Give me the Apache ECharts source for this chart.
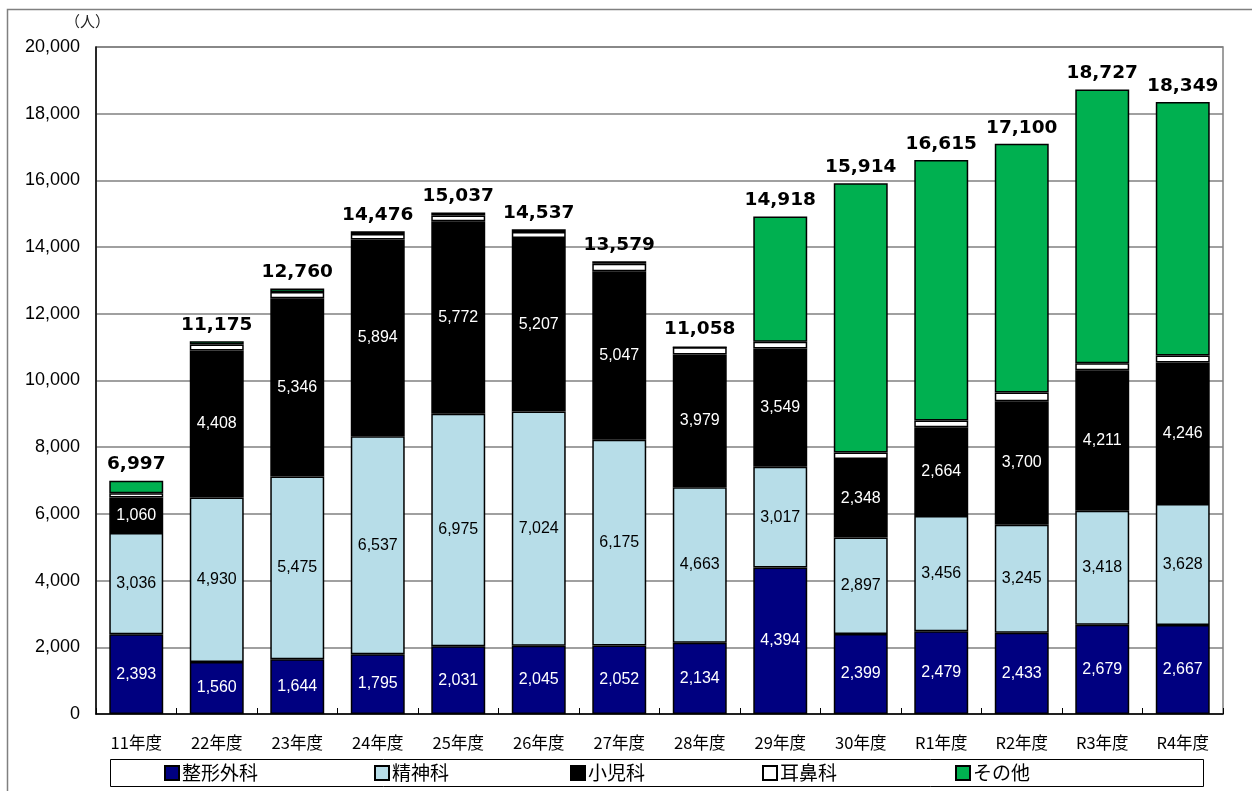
<!DOCTYPE html>
<html>
<head>
<meta charset="utf-8">
<script src="https://cdn.jsdelivr.net/npm/echarts@6/dist/echarts.min.js"></script>
<style>
html,body{margin:0;padding:0;background:#fff;}
#c{width:1252px;height:791px;}
</style>
</head>
<body>
<div id="c"></div>
<script>
var categories = ['11年度','22年度','23年度','24年度','25年度','26年度','27年度','28年度','29年度','30年度','R1年度','R2年度','R3年度','R4年度'];
var seikei  = [2393,1560,1644,1795,2031,2045,2052,2134,4394,2399,2479,2433,2679,2667];
var seishin = [3036,4930,5475,6537,6975,7024,6175,4663,3017,2897,3456,3245,3418,3628];
var shouni  = [1060,4408,5346,5894,5772,5207,5047,3979,3549,2348,2664,3700,4211,4246];
var jibi    = [130,180,190,170,170,180,230,220,200,200,200,260,210,210];
var sonota  = [378,97,105,80,89,81,75,0,3758,8070,7816,7462,8209,7598];
var totals  = [6997,11175,12760,14476,15037,14537,13579,11058,14918,15914,16615,17100,18727,18349];
var yTicks  = [0,2000,4000,6000,8000,10000,12000,14000,16000,18000,20000];

var NUM = "'Liberation Sans', Arial, sans-serif";
var JP = "'Noto Sans CJK JP', sans-serif";
function fmt(v){ return Number(v).toLocaleString('en-US'); }

function seg(name, data, color, labelColor, showLabel){
  return {
    name: name, type: 'bar', stack: 'all', data: data,
    barCategoryGap: '33%',
    itemStyle: {color: color, borderColor: '#000', borderWidth: 1.5},
    label: {
      show: showLabel, position: 'inside', color: labelColor,
      fontFamily: NUM, fontSize: 16,
      formatter: function(p){ return fmt(p.value); }
    },
    emphasis: {disabled: true},
    animation: false
  };
}

var legendLefts = [164, 374, 570, 762, 955];
var legendNames = ['整形外科','精神科','小児科','耳鼻科','その他'];
var legends = legendNames.map(function(n, i){
  return {
    data: [n], left: legendLefts[i], top: 763, padding: 0,
    itemWidth: 14, itemHeight: 14, itemGap: 6, icon: 'rect',
    selectedMode: false,
    textStyle: {fontFamily: JP, fontSize: 19, color: '#000', lineHeight: 20, padding: [0,0,0,-2]}
  };
});

var chart = echarts.init(document.getElementById('c'));
chart.setOption({
  animation: false,
  backgroundColor: '#fff',
  grid: {left: 96, right: 29, top: 47, bottom: 77, show: true, borderColor: '#808080', borderWidth: 1.5},
  legend: legends,
  graphic: [
    {type: 'rect', shape: {x: 7.5, y: 9.5, width: 1300, height: 900}, style: {fill: 'none', stroke: '#808080', lineWidth: 1.5}, z: -10},
    {type: 'rect', shape: {x: 110.5, y: 759.5, width: 1093, height: 27}, style: {fill: 'none', stroke: '#000', lineWidth: 1}, z: 0},
    {type: 'text', left: 65, top: 14, style: {text: '（人）', fontFamily: JP, fontSize: 15, fill: '#222'}}
  ],
  xAxis: {
    type: 'category', data: categories,
    axisLine: {lineStyle: {color: '#000', width: 1.5}},
    axisTick: {show: true, inside: true, length: 6, lineStyle: {color: '#000', width: 1}},
    axisLabel: {fontFamily: JP, fontSize: 16.5, color: '#000', margin: 20}
  },
  yAxis: {
    type: 'value', min: 0, max: 20000, interval: 2000,
    axisLine: {show: true, lineStyle: {color: '#000', width: 1.5}},
    axisTick: {show: false},
    splitLine: {lineStyle: {color: '#808080', width: 1.5}},
    axisLabel: {fontFamily: NUM, fontSize: 18, color: '#000', margin: 16,
      formatter: function(v){ return yTicks.indexOf(v) >= 0 ? fmt(v) : ''; }}
  },
  series: [
    seg('整形外科', seikei, '#000080', '#fff', true),
    seg('精神科', seishin, '#B7DDE8', '#000', true),
    seg('小児科', shouni, '#000000', '#fff', true),
    seg('耳鼻科', jibi, '#FFFFFF', '#000', false),
    seg('その他', sonota, '#00B050', '#000', false),
    {
      name: '合計', type: 'scatter', data: totals, symbolSize: 1, silent: true,
      itemStyle: {color: 'rgba(0,0,0,0)', opacity: 1}, z: 10,
      label: {show: true, position: 'top', distance: 6, color: '#000', opacity: 1, fontFamily: "'DejaVu Sans', sans-serif", fontWeight: 'bold', fontSize: 18.5,
        formatter: function(p){ return fmt(p.value); }},
      animation: false
    }
  ]
});
</script>
</body>
</html>
